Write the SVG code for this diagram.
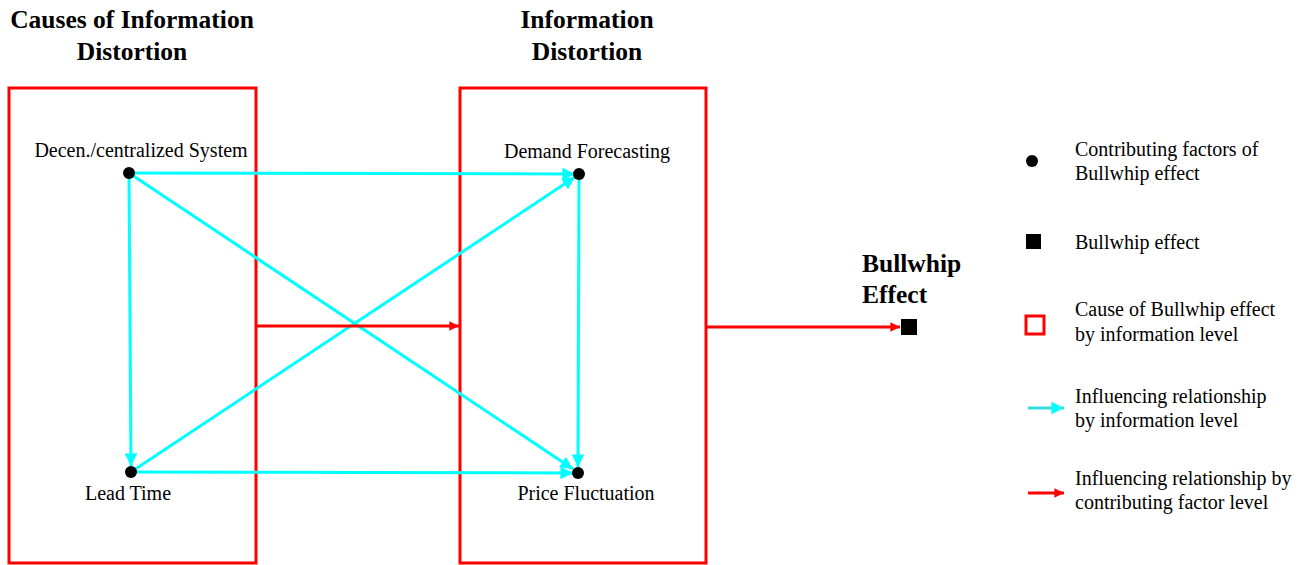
<svg xmlns="http://www.w3.org/2000/svg" width="1304" height="565" viewBox="0 0 1304 565">
<style>
text{font-family:"Liberation Serif","Times New Roman",serif;fill:#000}
.t{font-size:25.5px;font-weight:bold}
.l{font-size:20px}
.box{fill:none;stroke:#ff0000;stroke-width:3}
.c{stroke:#00ffff;stroke-width:3;fill:none}
.r{stroke:#ff0000;stroke-width:3;fill:none}
</style>
<defs>
<marker id="ac" viewBox="0 0 10 10" refX="10" refY="5" markerWidth="4.8" markerHeight="4.2" orient="auto" markerUnits="strokeWidth"><path d="M0,0 L10,5 L0,10 z" fill="#00ffff"/></marker>
<marker id="ar" viewBox="0 0 10 10" refX="10" refY="5" markerWidth="3.5" markerHeight="3.2" orient="auto" markerUnits="strokeWidth"><path d="M0,0 L10,5 L0,10 z" fill="#ff0000"/></marker>
</defs>
<g id="title-causes"><text class="t" x="132" y="28" text-anchor="middle">Causes of Information</text><text class="t" x="132" y="60" text-anchor="middle">Distortion</text></g>
<g id="title-distortion"><text class="t" x="587" y="28" text-anchor="middle">Information</text><text class="t" x="587" y="60" text-anchor="middle">Distortion</text></g>
<g id="box-causes"><rect class="box" x="9" y="88" width="247" height="475"/></g>
<g id="box-distortion"><rect class="box" x="460" y="88" width="246" height="475"/></g>
<g id="connectors">
<line class="c" x1="129" y1="173" x2="575" y2="174" marker-end="url(#ac)"/>
<line class="c" x1="129" y1="173" x2="131" y2="466" marker-end="url(#ac)"/>
<line class="c" x1="129" y1="173" x2="573" y2="469" marker-end="url(#ac)"/>
<line class="c" x1="131" y1="472" x2="575" y2="177" marker-end="url(#ac)"/>
<line class="c" x1="131" y1="472" x2="573" y2="473" marker-end="url(#ac)"/>
<line class="c" x1="579" y1="174" x2="578" y2="467" marker-end="url(#ac)"/>
<line class="r" x1="256" y1="326" x2="459" y2="326" marker-end="url(#ar)"/>
<line class="r" x1="706" y1="327" x2="900" y2="327" marker-end="url(#ar)"/>
</g>
<g id="node-decen"><circle cx="129" cy="173" r="6"/><text class="l" x="141" y="157" text-anchor="middle">Decen./centralized System</text></g>
<g id="node-lead"><circle cx="131" cy="472" r="6"/><text class="l" x="128" y="500" text-anchor="middle">Lead Time</text></g>
<g id="node-demand"><circle cx="579" cy="174" r="6"/><text class="l" x="587" y="158" text-anchor="middle">Demand Forecasting</text></g>
<g id="node-price"><circle cx="578" cy="473" r="6"/><text class="l" x="586" y="500" text-anchor="middle">Price Fluctuation</text></g>
<g id="node-bullwhip"><text class="t" x="862" y="272">Bullwhip</text><text class="t" x="862" y="303">Effect</text><rect x="901" y="319" width="16" height="16" fill="#000"/></g>
<g id="legend">
<circle cx="1032" cy="161" r="6"/>
<text class="l" x="1075" y="156">Contributing factors of</text><text class="l" x="1075" y="180">Bullwhip effect</text>
<rect x="1026" y="234" width="15" height="15" fill="#000"/>
<text class="l" x="1075" y="249">Bullwhip effect</text>
<rect x="1026" y="316" width="18" height="18" fill="none" stroke="#ff0000" stroke-width="3"/>
<text class="l" x="1075" y="316">Cause of Bullwhip effect</text><text class="l" x="1075" y="341">by information level</text>
<line x1="1028" y1="408" x2="1064" y2="408" stroke="#33dddd" stroke-width="3" marker-end="url(#ac)"/>
<text class="l" x="1075" y="403">Influencing relationship</text><text class="l" x="1075" y="427">by information level</text>
<line x1="1028" y1="493" x2="1064" y2="493" stroke="#ff0000" stroke-width="3" marker-end="url(#ar)"/>
<text class="l" x="1075" y="485">Influencing relationship by</text><text class="l" x="1075" y="509">contributing factor level</text>
</g>
</svg>
